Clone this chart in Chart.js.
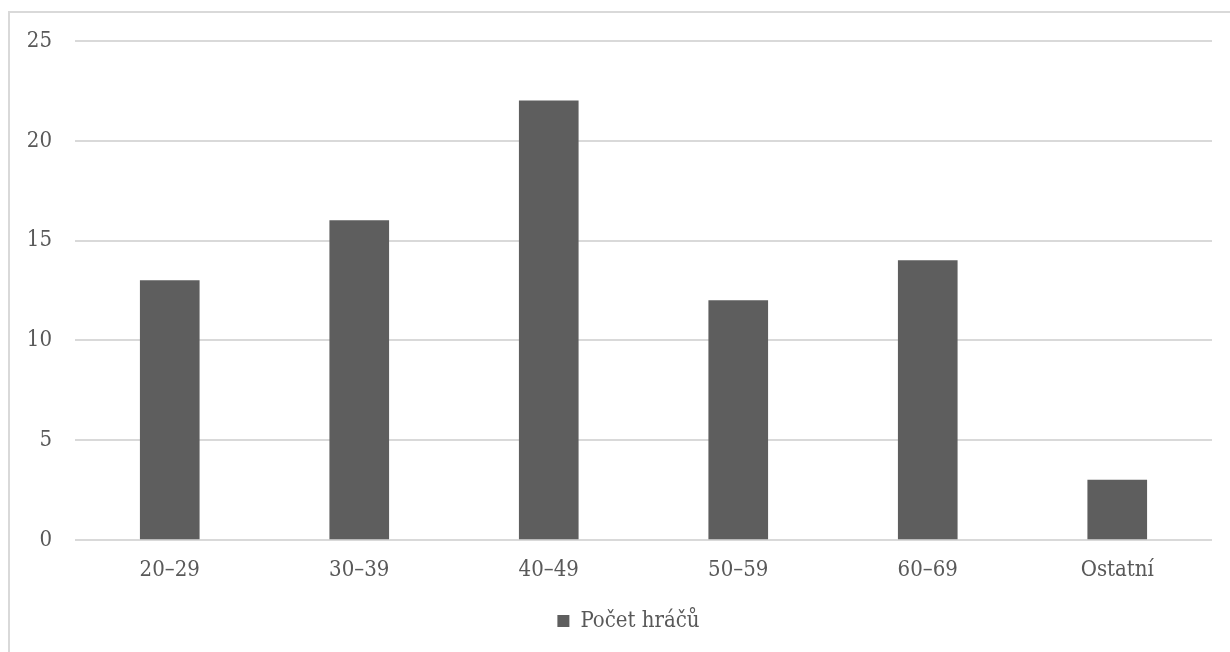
<!DOCTYPE html>
<html>
<head>
<meta charset="utf-8">
<script src="https://cdn.jsdelivr.net/npm/chart.js@4/dist/chart.umd.min.js"></script>
<style>
  html, body { margin: 0; padding: 0; background: #ffffff; overflow: hidden; }
  #frame {
    position: absolute; left: 8px; top: 11px;
    width: 1300px; height: 700px;
    border: 2px solid #d9d9d9; box-sizing: border-box;
  }
  #chart { position: absolute; left: 0; top: 0; }
</style>
</head>
<body>
<div id="frame"></div>
<canvas id="chart" width="1230" height="652"></canvas>
<script>
// Age groups of the players and how many fall into each
const categories = ['20–29', '30–39', '40–49', '50–59', '60–69', 'Ostatní'];
const playerCounts = [13, 16, 22, 12, 14, 3];
const seriesName = 'Počet hráčů';
const yTicks = [0, 5, 10, 15, 20, 25];

const FONT = "'DejaVu Serif Condensed', 'Liberation Serif', serif";
const SIZE = 22;
const TEXT = '#595959';
const BAR = '#5e5e5e';
const GRID = '#d9d9d9';

// nudges the legend row a little to the right of the canvas centre
const legendShift = {
  id: 'legendShift',
  afterLayout(chart) {
    const lg = chart.legend;
    if (lg) { lg.left += 9; lg.right += 9; }
  }
};

new Chart(document.getElementById('chart'), {
  type: 'bar',
  data: {
    labels: categories,
    datasets: [{
      label: seriesName,
      data: playerCounts,
      backgroundColor: BAR,
      borderWidth: 0,
      barThickness: 59
    }]
  },
  plugins: [legendShift],
  options: {
    responsive: false,
    devicePixelRatio: 1,
    animation: false,
    layout: { padding: { top: 41, right: 18, left: 27, bottom: 10 } },
    plugins: {
      tooltip: { enabled: false },
      legend: {
        position: 'bottom',
        labels: {
          font: { family: FONT, size: SIZE },
          color: TEXT,
          boxWidth: 12,
          boxHeight: 12,
          padding: 10
        }
      }
    },
    scales: {
      x: {
        grid: { display: false },
        border: { display: false },
        ticks: {
          font: { family: FONT, size: SIZE },
          color: TEXT,
          padding: 9,
          maxRotation: 0
        },
        afterFit(scale) { scale.height = 60; }
      },
      y: {
        min: yTicks[0],
        max: yTicks[yTicks.length - 1],
        afterBuildTicks(scale) { scale.ticks = yTicks.map(v => ({ value: v })); },
        grid: { color: GRID, lineWidth: 2, drawTicks: false },
        border: { display: false },
        ticks: {
          font: { family: FONT, size: SIZE },
          color: TEXT,
          padding: 23
        },
        afterFit(scale) { scale.width = 48; }
      }
    }
  }
});
</script>
</body>
</html>
